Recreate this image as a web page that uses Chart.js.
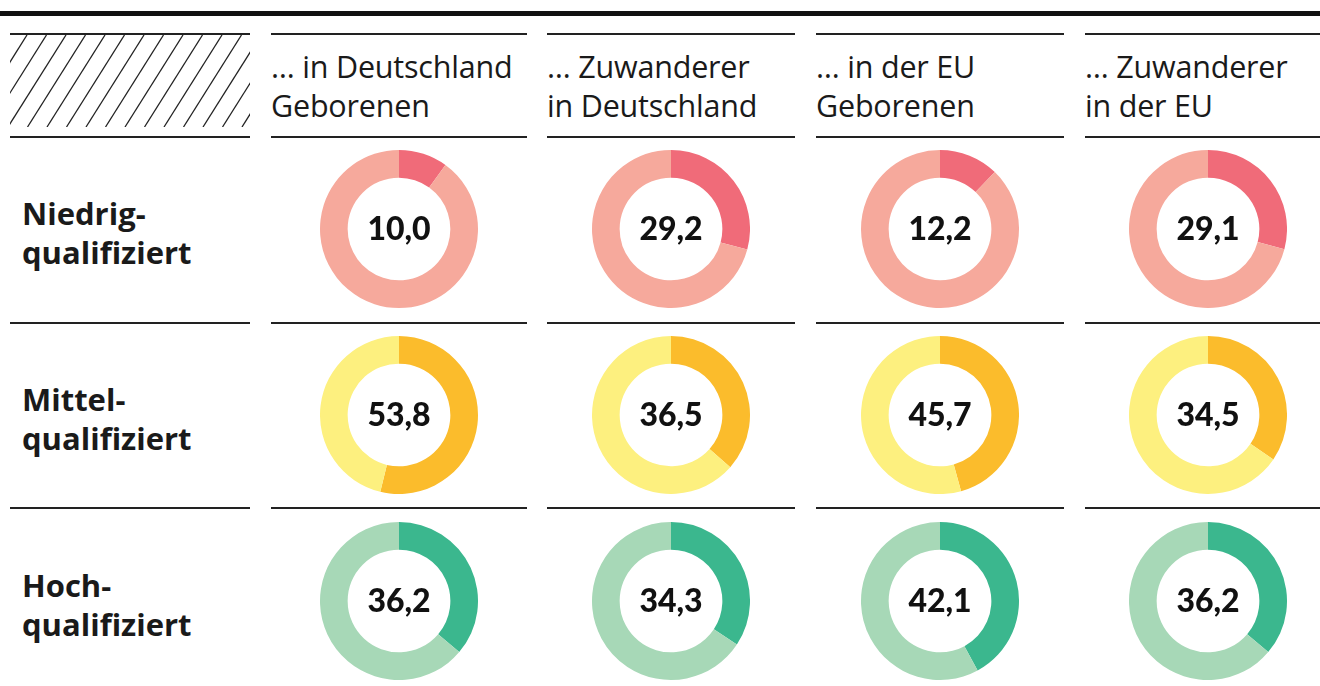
<!DOCTYPE html>
<html>
<head>
<meta charset="utf-8">
<script src="https://cdn.jsdelivr.net/npm/chart.js@4.4.1/dist/chart.umd.min.js"></script>
<style>
  body { margin:0; background:#fff; width:1320px; height:686px; overflow:hidden; position:relative; font-family: "Open Sans", Lato, sans-serif; color:#1a1a1a; font-variant-ligatures:none; }
  .abs { position:absolute; }
  .hl { position:absolute; height:2px; background:#222; }
  .head { position:absolute; font-size:30.5px; line-height:39px; display:flex; align-items:center; height:100px; letter-spacing:-0.2px; }
  .rowlab { position:absolute; left:22px; font-size:31px; font-weight:700; line-height:39px; display:flex; align-items:center; height:186px; }
</style>
</head>
<body>
<div class="abs" style="left:0;top:11px;width:1320px;height:5px;background:#111"></div>
<canvas id="hatch" class="abs" width="240" height="92" style="left:10px;top:35px"></canvas>
<div id="grid"></div>
<script>
// Anteile in Prozent (dunkles Segment)
const columns = ['… in Deutschland<br>Geborenen', '… Zuwanderer<br>in Deutschland', '… in der EU<br>Geborenen', '… Zuwanderer<br>in der EU'];
const rows = ['Niedrig-<br>qualifiziert', 'Mittel-<br>qualifiziert', 'Hoch-<br>qualifiziert'];
const niedrig = [10.0, 29.2, 12.2, 29.1];
const mittel = [53.8, 36.5, 45.7, 34.5];
const hoch = [36.2, 34.3, 42.1, 36.2];
const values = [niedrig, mittel, hoch];
const darkColors = ['#f06b79', '#fbbc2c', '#3bb78e'];
const lightColors = ['#f6a99c', '#fdf07f', '#a7d8b7'];

const colX = [[10, 250], [271, 527], [547, 795], [816, 1064], [1085, 1320]];
const donutX = [399, 671, 940, 1208];
const lineY = [34, 137, 323, 508];
const rowY = [229, 415, 601];

const grid = document.getElementById('grid');
function hline(x1, x2, y) {
  const d = document.createElement('div');
  d.className = 'hl';
  d.style.left = x1 + 'px'; d.style.width = (x2 - x1) + 'px'; d.style.top = (y - 1) + 'px';
  grid.appendChild(d);
}
colX.forEach(function (c) { lineY.forEach(function (y) { hline(c[0], c[1], y); }); });

columns.forEach(function (t, i) {
  const d = document.createElement('div');
  d.className = 'head';
  d.style.left = colX[i + 1][0] + 'px';
  d.style.top = '36px';
  d.innerHTML = t;
  grid.appendChild(d);
});
rows.forEach(function (t, r) {
  const d = document.createElement('div');
  d.className = 'rowlab';
  d.style.top = (rowY[r] - 89) + 'px';
  d.innerHTML = t;
  grid.appendChild(d);
});

// schraffur
const hc = document.getElementById('hatch').getContext('2d');
hc.strokeStyle = '#222'; hc.lineWidth = 1.3;
for (let x = -80; x < 300; x += 19.5) {
  hc.beginPath(); hc.moveTo(x, 92); hc.lineTo(x + 58, 0); hc.stroke();
}

const centerText = {
  id: 'centerText',
  afterDraw(chart) {
    const ctx = chart.ctx;
    const m = chart.getDatasetMeta(0).data[0];
    ctx.save();
    ctx.font = '900 32px Lato, "Noto Sans", sans-serif';
    ctx.fillStyle = '#111';
    ctx.textAlign = 'center';
    ctx.textBaseline = 'middle';
    ctx.fillText(chart.options.plugins.centerText.label, m.x, m.y + 1);
    ctx.restore();
  }
};

values.forEach(function (series, r) {
  series.forEach(function (v, c) {
    const cv = document.createElement('canvas');
    cv.width = 158; cv.height = 158;
    cv.className = 'abs';
    cv.style.left = (donutX[c] - 79) + 'px';
    cv.style.top = (rowY[r] - 79) + 'px';
    grid.appendChild(cv);
    new Chart(cv, {
      type: 'doughnut',
      data: {
        labels: ['Anteil', 'Rest'],
        datasets: [{
          data: [v, 100 - v],
          backgroundColor: [darkColors[r], lightColors[r]],
          borderWidth: 0
        }]
      },
      options: {
        responsive: false,
        animation: false,
        cutout: '65%',
        layout: { padding: 0 },
        plugins: {
          legend: { display: false },
          tooltip: { enabled: false },
          centerText: { label: v.toFixed(1).replace('.', ',') }
        }
      },
      plugins: [centerText]
    });
  });
});
</script>
</body>
</html>
